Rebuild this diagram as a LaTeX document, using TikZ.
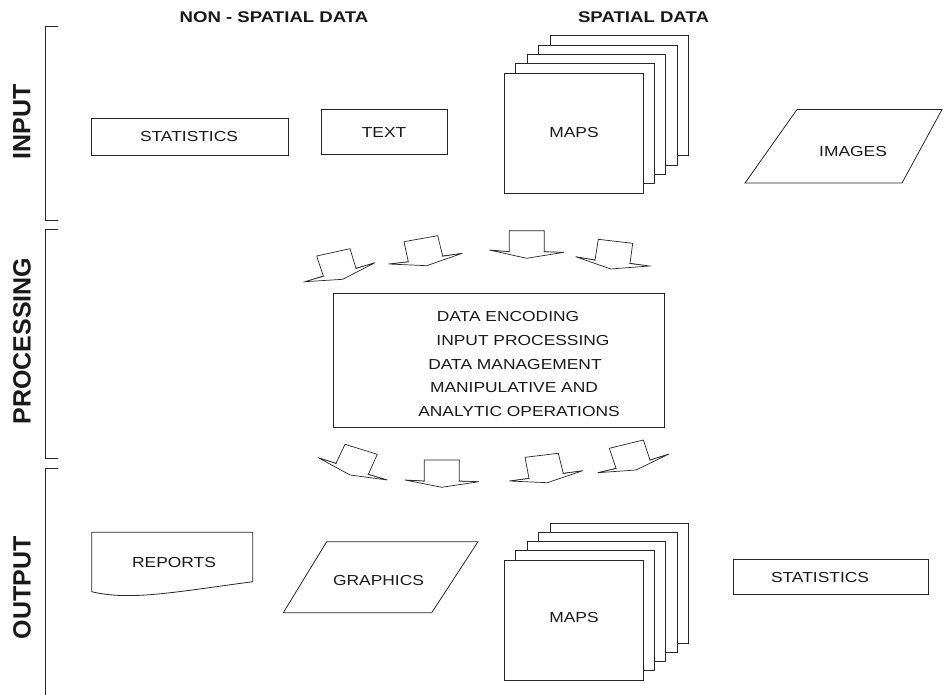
\documentclass[tikz,border=0pt]{standalone}
\usepackage{fontspec}
\setmainfont{Liberation Sans}[FakeStretch=1.2]
\newfontfamily\sidefont{Liberation Sans}
\usetikzlibrary{calc}

\tikzset{
  ink/.style={draw=black!85, line width=0.8pt},
  box/.style={ink, fill=white, rectangle, inner sep=0pt},
  label/.style={font=\fontsize{14.5}{17}\selectfont, text=black!90, inner sep=0pt},
  header/.style={font=\fontsize{15.5}{18}\selectfont\bfseries, text=black!90, inner sep=0pt},
  side/.style={font=\sidefont\fontsize{25}{28}\selectfont\bfseries, text=black!90, rotate=90, inner sep=0pt},
  bracket/.style={draw=black!85, line width=0.8pt},
  arrowline/.style={draw=black!85, line width=0.7pt, fill=white, line join=miter},
}

% block arrow: shaft top-left, shaft top-right, shaft right foot,
% right wing, tip, left wing, shaft left foot
\newcommand\blockarrow[7]{%
  \draw[arrowline] #1 -- #2 -- #3 -- #4 -- #5 -- #6 -- #7 -- cycle;
  \fill[black!85] #4 -- #3 -- ($#3!0.07!#5$) -- cycle;
  \fill[black!85] #6 -- #7 -- ($#7!0.07!#5$) -- cycle;
}

% stack of five sheets, front sheet given by its corners
\newcommand\mapstack[5]{%
  \foreach \k in {4,3,2,1}{
    \draw[ink, fill=white] ($(#1,#2)+(11.5*\k,-9.2*\k)$) rectangle ($(#3,#4)+(11.5*\k,-9.2*\k)$);
  }
  \node[box, minimum width=#3-#1, minimum height=#4-#2, anchor=north west] (#5) at (#1,#2) {};
}

\begin{document}
\begin{tikzpicture}[x=1pt, y=-1pt]
\useasboundingbox (0,0) rectangle (947,695);

% column headings
\node[header] (hnon) at (274,17) {NON - SPATIAL DATA};
\node[header] (hspa) at (643.5,17) {SPATIAL DATA};

% side brackets and stage names
\draw[bracket] (58,26) -- (45.5,26) -- (45.5,220) -- (58,220);
\draw[bracket] (58,229) -- (45.5,229) -- (45.5,458) -- (58,458);
\draw[bracket] (58,468) -- (45.5,468) -- (45.5,695);
\node[side] (sinput) at (22,122) {INPUT};
\node[side] (sproc) at (22,341) {PROCESSING};
\node[side] (soutput) at (22,588) {OUTPUT};

% ---------- input row ----------
\node[box, minimum width=197, minimum height=36.5] (instat) at (189.5,137) {};
\node[label] (instatt) at (189,137) {STATISTICS};
\node[box, minimum width=126, minimum height=45] (intext) at (384,132) {};
\node[label] (intextt) at (384,133) {TEXT};
\mapstack{504}{72.7}{642.7}{192.7}{inmaps}
\node[label] (inmapst) at (574,133) {MAPS};
\draw[ink] (745,183) -- (902,183) -- (942,109.5) -- (797,109.5) -- cycle;
\node[label] (inimg) at (853,152) {IMAGES};

% ---------- arrows into processing ----------
\blockarrow{(316.7,256)}{(350,248.7)}{(356,268.3)}{(375,262.7)}{(342.7,279.3)}{(305,281.7)}{(323.3,276)}
\blockarrow{(404,241.7)}{(437.7,235.7)}{(442.7,256)}{(462.3,253.3)}{(426.7,265.7)}{(388.7,264)}{(408.3,261.7)}
\blockarrow{(509.3,230.7)}{(544.3,230.7)}{(544.3,251.7)}{(564,252.3)}{(526.7,258.3)}{(489.3,250)}{(509.3,251.7)}
\blockarrow{(598.3,239.3)}{(632.7,243.3)}{(630,263.3)}{(649.3,266)}{(610.7,269)}{(575.7,256.7)}{(595,260)}

% ---------- processing box ----------
\node[box, minimum width=331.3, minimum height=134.5, anchor=north west] (proc) at (332.7,292.7) {};
\node[label] (p1) at (508,316.7) {DATA ENCODING};
\node[label] (p2) at (523,341) {INPUT PROCESSING};
\node[label] (p3) at (515,364.3) {DATA MANAGEMENT};
\node[label] (p4) at (514,387.3) {MANIPULATIVE AND};
\node[label] (p5) at (519,411.7) {ANALYTIC OPERATIONS};

% ---------- arrows out of processing ----------
\blockarrow{(345,444.3)}{(377.3,454.3)}{(368.3,474.3)}{(387.3,480)}{(350,475)}{(318.3,457.7)}{(336,463.3)}
\blockarrow{(424.3,460)}{(459.3,460)}{(459.3,481)}{(479,481.7)}{(441.7,487.3)}{(405,480)}{(424.3,481)}
\blockarrow{(525,457.3)}{(558.3,453.3)}{(563.3,473.3)}{(582.7,470.7)}{(547.3,482.7)}{(509.3,481)}{(529,478.3)}
\blockarrow{(609.3,448.3)}{(643.3,440)}{(650,460)}{(669,454)}{(636,470)}{(597.7,472.7)}{(616,468.3)}

% ---------- output row ----------
\draw[ink, fill=white] (91.7,532.3) -- (252.7,532.3) -- (252.7,581.7)
  .. controls (175,592) and (130,601) .. (91.7,591.7) -- cycle;
\node[label] (outrep) at (174,562.7) {REPORTS};
\draw[ink] (283.3,612.7) -- (431.7,612.7) -- (478,541.7) -- (326.7,541.7) -- cycle;
\node[label] (outgra) at (378.5,580.7) {GRAPHICS};
\mapstack{504}{560}{642.7}{680}{outmaps}
\node[label] (outmapst) at (574,618) {MAPS};
\node[box, minimum width=195, minimum height=35.5] (outstat) at (830.5,577) {};
\node[label] (outstatt) at (820,578) {STATISTICS};

\end{tikzpicture}
\end{document}
